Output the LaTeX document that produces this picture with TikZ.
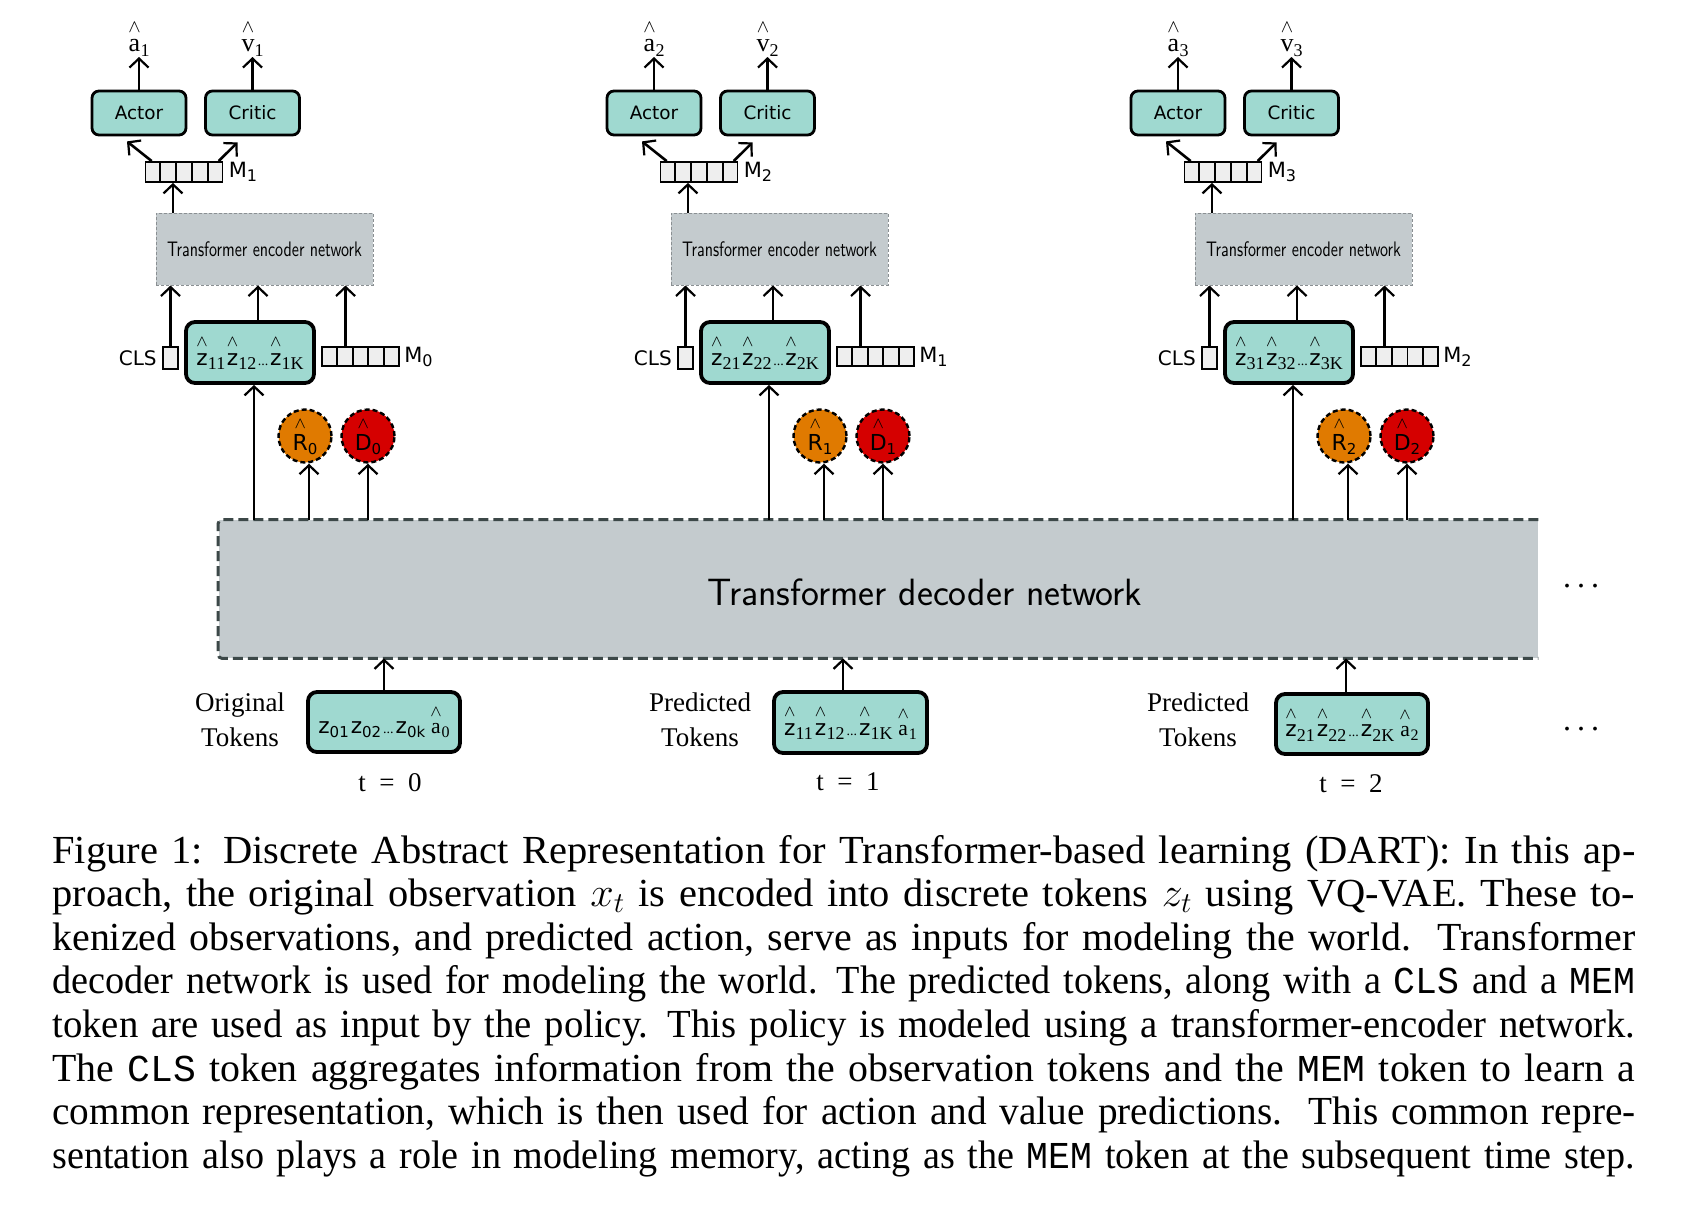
\documentclass[tikz,border=0pt]{standalone}
\usepackage{fontspec}
\usepackage{amsmath}
\usepackage{graphicx}
\usetikzlibrary{arrows.meta,calc}
\newfontfamily\dejavu{DejaVu Sans}
\newfontfamily\timesf{Liberation Serif}
\newfontfamily\courf{Liberation Mono}
\definecolor{tealf}{HTML}{9FD9D0}
\definecolor{grayf}{HTML}{C4CBCE}
\definecolor{decb}{HTML}{3C4848}
\definecolor{cellf}{HTML}{EEEEEE}
\definecolor{orangef}{HTML}{E07A00}
\definecolor{redf}{HTML}{D50000}
\definecolor{encb}{HTML}{8A8F92}
\newcommand\hatx[1]{\ensuremath{\overset{\raisebox{1.2pt}{$\scriptstyle\wedge$}}{\text{#1}}}}
\newcommand\zh[1]{\hatx{\dejavu z}\kern0.1pt\raisebox{-2.2pt}{\fontsize{9}{9}\selectfont\timesf #1}}
\newcommand\pz[1]{{\dejavu z\raisebox{-2pt}{\fontsize{7.5}{7.5}\selectfont #1}}}
\newcommand\ha[1]{\hatx{\timesf a}\raisebox{-2pt}{\fontsize{8}{8}\selectfont\timesf #1}}
\newcommand\sdots{{\fontsize{7}{7}\selectfont\timesf ...}}
\newcommand\capfont{\fontsize{19.9}{21.8}\selectfont\timesf}
\newcommand\cl[1]{\noindent\resizebox{\linewidth}{\height}{#1}\par}
\newcommand\ttx[1]{{\fontsize{19}{21.8}\selectfont\courf #1}}
\begin{document}
\begin{tikzpicture}[x=0.5pt,y=-0.5pt,
  arr/.style={-{Straight Barb[length=4.5pt,width=9.5pt,line width=1.1pt]}, line width=1.3pt},
  tealbox/.style={draw, line width=1.4pt, rounded corners=3.5pt, fill=tealf, inner sep=0pt,
    minimum width=47pt, minimum height=22pt, font=\fontsize{9.2}{10}\selectfont\dejavu},
  tokbox/.style={draw, line width=1.9pt, rounded corners=4.5pt, fill=tealf, inner sep=0pt,
    font=\fontsize{10.8}{12}\selectfont},
  memrow/.style={draw, line width=0.9pt, fill=cellf, inner sep=0pt, minimum width=38.5pt, minimum height=10pt},
  clsbox/.style={draw, line width=0.9pt, fill=cellf, inner sep=0pt, minimum width=7.5pt, minimum height=11pt},
  encbox/.style={draw=encb, line width=0.5pt, dash pattern=on 1.5pt off 1pt, fill=grayf, inner sep=0pt,
    minimum width=108.5pt, minimum height=36pt},
  circ/.style={circle, draw=black, line width=1.2pt, dash pattern=on 2.5pt off 1.5pt, minimum size=26.5pt,
    inner sep=0pt, font=\fontsize{11}{11}\selectfont\dejavu},
  lab/.style={inner sep=0pt, font=\fontsize{13}{13}\selectfont\timesf},
  mlab/.style={inner sep=0pt, anchor=west, font=\fontsize{10.5}{11}\selectfont\dejavu},
  serlab/.style={inner sep=0pt, align=center, font=\fontsize{13.5}{17.5}\selectfont\timesf}
]
\fill[white] (0,0) rectangle (1696,1211);
\useasboundingbox (0,0) rectangle (1696,1211);

% decoder
\node[fill=grayf, inner sep=0pt, minimum width=659.75pt, minimum height=69pt] (dec) at (878.25,589) {};
\draw[line width=1.5pt, draw=decb, dash pattern=on 5pt off 2.5pt, rounded corners=2pt]
  (dec.north east) -- (dec.north west) -- (dec.south west) -- (dec.south east);
\node[inner sep=0pt, font=\fontsize{19}{20}\selectfont\sffamily] (dectext) at (925,592) {Transformer decoder network};
\node[inner sep=0pt, font=\fontsize{16}{16}\selectfont\timesf] (dotsA) at (1581,586) {.\hspace{3pt}.\hspace{3pt}.};
\node[inner sep=0pt, font=\fontsize{16}{16}\selectfont\timesf] (dotsB) at (1581,729) {.\hspace{3pt}.\hspace{3pt}.};

\foreach \i/\dx/\pp in {1/0/0, 2/515/1, 3/1039/2} {
\begin{scope}[shift={(\dx,0)}]
  \node[tealbox] (actor\i) at (139,113) {Actor};
  \node[tealbox] (critic\i) at (252.5,113) {Critic};
  \node[lab, anchor=south] (ah\i) at (139,57) {\hatx{a}\raisebox{-2.5pt}{\fontsize{9}{9}\selectfont\i}};
  \node[lab, anchor=south] (vh\i) at (252.5,57) {\hatx{v}\raisebox{-2.5pt}{\fontsize{9}{9}\selectfont\i}};
  \draw[arr] (actor\i.north) -- (ah\i.south);
  \draw[arr] (critic\i.north) -- (vh\i.south);
  % memory out
  \node[memrow] (m\i) at (184,172) {};
  \foreach \k in {1,2,3,4} {
    \draw[line width=0.9pt] ($(m\i.north west)!\k/5!(m\i.north east)$) -- ($(m\i.south west)!\k/5!(m\i.south east)$);
  }
  \node[mlab] (ml\i) at ([xshift=2.5pt]m\i.east) {M\raisebox{-2pt}{\fontsize{8}{8}\selectfont\i}};
  \draw[arr] ($(m\i.north west)!0.09!(m\i.north east)$) -- ([xshift=-6pt,yshift=-2.5pt]actor\i.south);
  \draw[arr] ($(m\i.north west)!0.94!(m\i.north east)$) -- ([xshift=-7.5pt,yshift=-3pt]critic\i.south);
  % encoder
  \node[encbox] (te\i) at (264.5,249) {\scalebox{0.8}[1.05]{\sffamily\fontsize{10}{12}\selectfont Transformer encoder network}};
  \coordinate (mt\i) at ($(m\i.south west)!0.36!(m\i.south east)$);
  \draw[arr] (mt\i |- te\i.north) -- (mt\i);
  % inputs
  \node[clsbox] (cls\i) at (170.5,358) {};
  \node[inner sep=0pt, anchor=east, font=\fontsize{10}{10}\selectfont\dejavu] (clsl\i) at ([xshift=-2.5pt]cls\i.west) {CLS};
  \node[tokbox, minimum width=64pt, minimum height=30.5pt] (z\i) at (250,352.5) {\zh{\i1}\kern0.8pt\zh{\i2}\kern0.8pt\sdots\kern0.8pt\zh{\i K}};
  \node[memrow, minimum height=9.5pt] (mb\i) at (360.5,356.5) {};
  \foreach \k in {1,2,3,4} {
    \draw[line width=0.9pt] ($(mb\i.north west)!\k/5!(mb\i.north east)$) -- ($(mb\i.south west)!\k/5!(mb\i.south east)$);
  }
  \node[mlab] (mbl\i) at ([xshift=2pt]mb\i.east) {M\raisebox{-2pt}{\fontsize{8}{8}\selectfont\pp}};
  \draw[arr] (cls\i.north) -- (cls\i.north |- te\i.south);
  \draw[arr] ([xshift=4pt]z\i.north) -- ([xshift=4pt]z\i.north |- te\i.south);
  \coordinate (mm\i) at ($(mb\i.north west)!0.31!(mb\i.north east)$);
  \draw[arr] (mm\i) -- (mm\i |- te\i.south);
  % predictions
  \node[circ, fill=orangef] (r\i) at (305,436) {\hatx{R}\raisebox{-2pt}{\fontsize{7.5}{7.5}\selectfont\pp}};
  \node[circ, fill=redf] (d\i) at (368,436) {\hatx{D}\raisebox{-2pt}{\fontsize{7.5}{7.5}\selectfont\pp}};
  \draw[arr] ([xshift=2pt]z\i.south |- dec.north) -- ([xshift=2pt]z\i.south);
  \draw[arr] ([xshift=2pt]r\i.south |- dec.north) -- ([xshift=2pt]r\i.south);
  \draw[arr] (d\i.south |- dec.north) -- (d\i.south);
\end{scope}
}

% bottom tokens
\node[tokbox, minimum width=76pt, minimum height=30pt] (tok0) at (384,722) {\pz{01}\kern1pt\pz{02}\kern1pt\sdots\kern1pt\pz{0k}\kern2.5pt\ha{0}};
\node[tokbox, minimum width=76.5pt, minimum height=30.5pt] (tok1) at (850.5,722.5) {\zh{11}\kern1pt\zh{12}\kern1pt\sdots\kern1pt\zh{1K}\kern2.5pt\ha{1}};
\node[tokbox, minimum width=76pt, minimum height=30pt] (tok2) at (1352,724) {\zh{21}\kern1pt\zh{22}\kern1pt\sdots\kern1pt\zh{2K}\kern2.5pt\ha{2}};
\draw[arr] (tok0.north) -- (tok0.north |- dec.south);
\draw[arr] ([xshift=-3.75pt]tok1.north) -- ([xshift=-3.75pt]tok1.north |- dec.south);
\draw[arr] ([xshift=-3pt]tok2.north) -- ([xshift=-3pt]tok2.north |- dec.south);
\node[serlab] (lab0) at (240,720) {Original\\Tokens};
\node[serlab] (lab1) at (700,720) {Predicted\\Tokens};
\node[serlab] (lab2) at (1198,720) {Predicted\\Tokens};
\node[serlab] (t0) at (390,783) {t\enspace=\enspace0};
\node[serlab] (t1) at (848,782) {t\enspace=\enspace1};
\node[serlab] (t2) at (1351,784) {t\enspace=\enspace2};

% caption
\node[anchor=base west, inner sep=0pt, text width=791.5pt, font=\capfont] (cap) at (52,863) {%
\cl{Figure 1: Discrete Abstract Representation for Transformer-based learning (DART): In this ap-}%
\cl{proach, the original observation $x_t$ is encoded into discrete tokens $z_t$ using VQ-VAE. These to-}%
\cl{kenized observations, and predicted action, serve as inputs for modeling the world.\ \ Transformer}%
\cl{decoder network is used for modeling the world. The predicted tokens, along with a \ttx{CLS} and a \ttx{MEM}}%
\cl{token are used as input by the policy. This policy is modeled using a transformer-encoder network.}%
\cl{The \ttx{CLS} token aggregates information from the observation tokens and the \ttx{MEM} token to learn a}%
\cl{common representation, which is then used for action and value predictions.\ \ This common repre-}%
\cl{sentation also plays a role in modeling memory, acting as the \ttx{MEM} token at the subsequent time step.}%
};
\end{tikzpicture}
\end{document}
